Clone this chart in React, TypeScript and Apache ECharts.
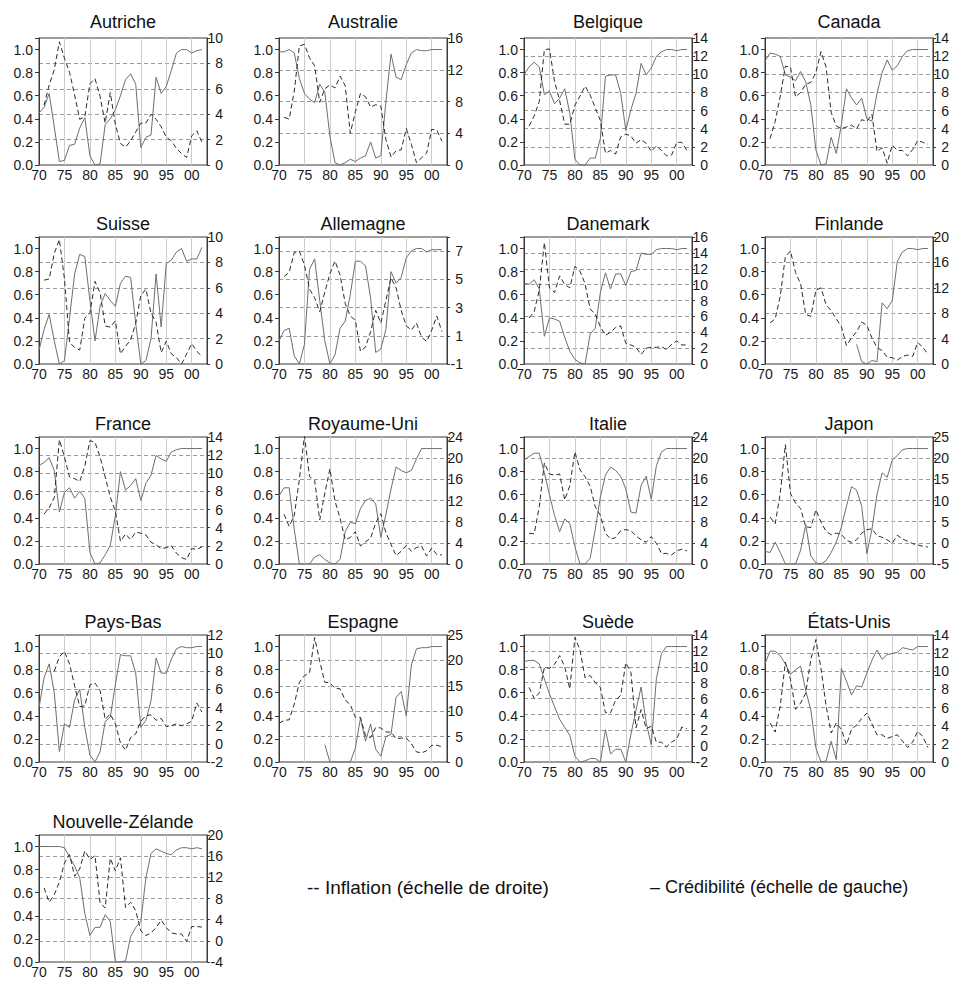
import React, { useEffect, useRef } from "react";
import * as echarts from "echarts";

const YEARS = [1970, 1971, 1972, 1973, 1974, 1975, 1976, 1977, 1978, 1979, 1980, 1981, 1982, 1983, 1984, 1985, 1986, 1987, 1988, 1989, 1990, 1991, 1992, 1993, 1994, 1995, 1996, 1997, 1998, 1999, 2000, 2001, 2002];

const COUNTRIES = ["Autriche", "Australie", "Belgique", "Canada", "Suisse", "Allemagne", "Danemark", "Finlande", "France", "Royaume-Uni", "Italie", "Japon", "Pays-Bas", "Espagne", "Suède", "États-Unis", "Nouvelle-Zélande"];

// right (inflation) axis per country
const RIGHT_MIN = [0, 0, 0, 0, 0, -1, 0, 0, 0, 0, 0, -5, -2, 0, -2, 0, -4];
const RIGHT_MAX = [10, 16, 14, 14, 10, 8, 16, 20, 14, 24, 24, 25, 12, 25, 14, 14, 20];
const RIGHT_STEP = [2, 4, 2, 2, 2, 2, 2, 4, 2, 4, 4, 5, 2, 5, 2, 2, 4];

const LEGEND_INFLATION = "-- Inflation (échelle de droite)";
const LEGEND_CREDIBILITE = "– Crédibilité (échelle de gauche)";

// Credibility (left scale) and inflation (right scale), 1970-2002
const credAutriche = [0.45, 0.50, 0.62, 0.33, 0.03, 0.04, 0.17, 0.18, 0.32, 0.41, 0.08, 0.00, 0.01, 0.35, 0.40, 0.48, 0.60, 0.74, 0.79, 0.70, 0.15, 0.24, 0.26, 0.76, 0.62, 0.68, 0.82, 0.97, 1.00, 1.00, 0.97, 0.99, 1.00];
const inflAutriche = [null, 4.7, 6.3, 7.5, 9.7, 8.4, 7.3, 5.5, 3.6, 3.8, 6.4, 6.8, 5.4, 3.3, 5.7, 3.2, 1.7, 1.4, 1.9, 2.6, 3.3, 3.3, 4.0, 3.6, 3.0, 2.2, 1.9, 1.3, 0.9, 0.6, 2.3, 2.7, 1.8];

const credAustralie = [0.98, 0.98, 1.00, 0.97, 0.75, 0.62, 0.57, 0.54, 0.70, 0.63, 0.25, 0.02, 0.00, 0.02, 0.05, 0.03, 0.06, 0.08, 0.20, 0.06, 0.08, 0.55, 0.96, 0.76, 0.74, 0.87, 0.97, 1.00, 0.99, 0.99, 1.00, 1.00, 1.00];
const inflAustralie = [null, 6.0, 5.8, 9.3, 15.0, 15.2, 13.5, 12.5, 7.9, 9.6, 10.1, 9.7, 11.2, 10.0, 4.0, 6.7, 9.0, 8.6, 7.3, 7.6, 7.4, 3.2, 1.0, 1.8, 1.9, 4.6, 2.6, 0.3, 0.9, 1.5, 4.5, 4.4, 3.0];

const credBelgique = [0.78, 0.85, 0.89, 0.85, 0.61, 0.64, 0.53, 0.58, 0.66, 0.45, 0.05, 0.00, 0.00, 0.06, 0.06, 0.23, 0.77, 0.78, 0.78, 0.62, 0.30, 0.48, 0.62, 0.88, 0.78, 0.84, 0.94, 0.98, 1.00, 1.00, 0.99, 1.00, 1.00];
const inflBelgique = [null, 4.3, 5.4, 7.0, 12.7, 12.8, 9.2, 7.1, 4.5, 4.5, 6.6, 7.6, 8.7, 7.7, 6.3, 4.9, 1.3, 1.6, 1.2, 3.1, 3.4, 3.2, 2.4, 2.8, 2.4, 1.5, 2.1, 1.6, 1.0, 1.1, 2.5, 2.5, 1.6];

const credCanada = [0.90, 0.97, 0.96, 0.94, 0.78, 0.76, 0.73, 0.81, 0.72, 0.52, 0.13, 0.00, 0.01, 0.24, 0.10, 0.35, 0.66, 0.58, 0.52, 0.58, 0.40, 0.38, 0.62, 0.80, 0.91, 0.82, 0.86, 0.94, 0.99, 1.00, 1.00, 1.00, 1.00];
const inflCanada = [null, 2.9, 4.8, 7.6, 10.9, 10.8, 7.5, 8.0, 8.9, 9.1, 10.2, 12.5, 10.8, 5.8, 4.3, 4.0, 4.2, 4.4, 4.0, 5.0, 4.8, 5.6, 1.5, 1.9, 0.2, 2.2, 1.6, 1.6, 1.0, 1.7, 2.7, 2.5, 2.3];

const credSuisse = [0.12, 0.30, 0.43, 0.20, 0.00, 0.03, 0.40, 0.78, 0.95, 0.93, 0.55, 0.20, 0.50, 0.61, 0.55, 0.50, 0.70, 0.76, 0.75, 0.35, 0.00, 0.03, 0.22, 0.78, 0.32, 0.87, 0.90, 0.97, 1.00, 0.89, 0.91, 0.91, 1.01];
const inflSuisse = [null, 6.6, 6.7, 8.7, 9.8, 6.7, 1.7, 1.3, 1.1, 3.6, 4.0, 6.5, 5.6, 3.0, 2.9, 3.4, 0.8, 1.4, 1.9, 3.2, 5.4, 5.9, 4.0, 3.3, 0.9, 1.8, 0.8, 0.5, 0.0, 0.8, 1.6, 1.0, 0.6];

const credAllemagne = [0.20, 0.29, 0.31, 0.07, 0.00, 0.17, 0.82, 0.91, 0.55, 0.20, 0.00, 0.08, 0.31, 0.37, 0.60, 0.89, 0.89, 0.85, 0.57, 0.10, 0.13, 0.30, 0.80, 0.70, 0.75, 0.92, 0.98, 1.00, 1.00, 0.97, 0.99, 0.99, 0.99];
const inflAllemagne = [null, 5.2, 5.5, 6.9, 7.0, 6.0, 4.3, 3.7, 2.7, 4.1, 5.4, 6.3, 5.3, 3.3, 2.4, 2.1, -0.1, 0.2, 1.3, 2.8, 1.9, 3.5, 5.1, 4.4, 2.8, 1.7, 1.4, 1.9, 0.9, 0.6, 1.4, 2.4, 1.3];

const credDanemark = [0.70, 0.69, 0.73, 0.65, 0.24, 0.40, 0.39, 0.37, 0.23, 0.11, 0.04, 0.01, 0.00, 0.26, 0.31, 0.62, 0.79, 0.65, 0.78, 0.78, 0.68, 0.80, 0.81, 0.96, 0.95, 0.95, 0.99, 1.00, 1.00, 1.00, 0.99, 1.00, 1.00];
const inflDanemark = [null, 5.8, 6.6, 9.3, 15.3, 9.6, 9.0, 11.1, 10.0, 9.6, 12.3, 11.7, 10.1, 6.9, 6.3, 4.7, 3.6, 4.0, 4.6, 4.8, 2.6, 2.4, 2.1, 1.2, 2.0, 2.1, 2.1, 2.2, 1.8, 2.5, 2.9, 2.4, 2.4];

const credFinlande = [null, null, null, null, null, null, null, null, null, null, null, null, null, null, null, null, null, null, 0.17, 0.02, 0.00, 0.03, 0.02, 0.53, 0.48, 0.55, 0.89, 0.97, 1.00, 1.00, 0.99, 1.00, 1.00];
const inflFinlande = [null, 6.5, 7.1, 10.7, 16.9, 17.8, 14.4, 12.6, 7.8, 7.5, 11.6, 12.0, 9.3, 8.4, 7.1, 5.9, 2.9, 4.1, 5.1, 6.6, 6.1, 4.1, 2.6, 2.1, 1.1, 1.0, 0.6, 1.2, 1.4, 1.2, 3.4, 2.6, 1.6];

const credFrance = [0.85, 0.88, 0.92, 0.81, 0.45, 0.62, 0.66, 0.57, 0.63, 0.57, 0.10, 0.00, 0.01, 0.08, 0.16, 0.42, 0.80, 0.64, 0.68, 0.74, 0.55, 0.70, 0.77, 0.94, 0.91, 0.89, 0.97, 0.99, 1.00, 1.00, 1.00, 1.00, 1.00];
const inflFrance = [null, 5.5, 6.2, 7.3, 13.7, 11.8, 9.6, 9.4, 9.1, 10.8, 13.6, 13.4, 11.8, 9.6, 7.4, 5.8, 2.5, 3.3, 2.7, 3.5, 3.4, 3.2, 2.4, 2.1, 1.7, 1.8, 2.0, 1.2, 0.7, 0.5, 1.7, 1.6, 1.9];

const credRoyaumeUni = [0.59, 0.66, 0.66, 0.30, 0.00, 0.00, 0.00, 0.06, 0.08, 0.04, 0.01, 0.00, 0.04, 0.28, 0.36, 0.35, 0.48, 0.55, 0.57, 0.52, 0.23, 0.43, 0.65, 0.84, 0.81, 0.79, 0.81, 0.91, 1.00, 1.00, 1.00, 1.00, 1.00];
const inflRoyaumeUni = [null, 9.4, 7.1, 9.2, 16.0, 24.2, 16.5, 15.8, 8.3, 13.4, 18.0, 11.9, 8.6, 4.6, 5.0, 6.1, 3.4, 4.2, 4.9, 7.8, 9.5, 5.9, 3.7, 1.6, 2.4, 3.5, 2.4, 3.1, 3.4, 1.5, 3.0, 1.8, 1.7];

const credItalie = [0.90, 0.93, 0.96, 0.96, 0.79, 0.60, 0.42, 0.28, 0.39, 0.35, 0.15, 0.00, 0.00, 0.05, 0.30, 0.58, 0.77, 0.84, 0.81, 0.76, 0.65, 0.45, 0.44, 0.68, 0.76, 0.56, 0.85, 0.97, 1.00, 1.00, 1.00, 1.00, 1.00];
const inflItalie = [null, 5.8, 5.7, 10.8, 19.1, 17.0, 16.8, 17.0, 12.1, 14.8, 21.2, 17.8, 16.5, 14.7, 10.8, 9.2, 5.8, 4.7, 5.0, 6.3, 6.5, 6.3, 5.3, 4.6, 4.1, 5.2, 3.9, 2.0, 2.0, 1.7, 2.5, 2.8, 2.5];

const credJapon = [0.11, 0.10, 0.19, 0.10, 0.00, 0.00, 0.00, 0.12, 0.34, 0.07, 0.01, 0.00, 0.03, 0.10, 0.19, 0.32, 0.50, 0.67, 0.64, 0.50, 0.09, 0.30, 0.60, 0.79, 0.75, 0.90, 0.94, 0.99, 1.00, 1.00, 1.00, 1.00, 1.00];
const inflJapon = [null, 6.1, 4.5, 11.7, 23.2, 11.7, 9.4, 8.1, 3.8, 3.6, 7.8, 4.9, 2.7, 1.9, 2.3, 2.0, 0.6, 0.1, 0.7, 2.3, 3.1, 3.3, 1.7, 1.3, 0.7, -0.1, 1.8, 0.9, 0.4, -0.2, -0.5, -0.8, -1.0];

const credPaysBas = [0.47, 0.73, 0.85, 0.60, 0.09, 0.33, 0.30, 0.54, 0.63, 0.30, 0.06, 0.00, 0.09, 0.35, 0.39, 0.67, 0.93, 0.92, 0.92, 0.77, 0.30, 0.36, 0.53, 0.90, 0.77, 0.77, 0.89, 0.98, 1.00, 0.99, 0.99, 1.00, 1.00];
const inflPaysBas = [null, null, null, 8.0, 9.6, 10.2, 8.8, 6.4, 4.1, 4.2, 6.5, 6.7, 5.9, 2.7, 3.3, 2.2, 0.1, -0.7, 0.7, 1.1, 2.5, 3.1, 3.2, 2.6, 2.8, 1.9, 2.0, 2.2, 2.0, 2.2, 2.5, 4.5, 3.5];

const credEspagne = [null, null, null, null, null, null, null, null, null, 0.15, 0.00, 0.00, 0.00, 0.00, 0.00, 0.12, 0.38, 0.18, 0.33, 0.11, 0.05, 0.22, 0.24, 0.56, 0.61, 0.40, 0.84, 0.98, 0.99, 0.99, 1.00, 1.00, 1.00];
const inflEspagne = [7.6, 8.2, 8.3, 11.4, 15.7, 17.0, 17.6, 24.5, 19.8, 15.7, 15.6, 14.5, 14.4, 12.2, 11.3, 8.8, 8.8, 5.2, 4.8, 6.8, 6.7, 5.9, 5.9, 4.6, 4.7, 4.7, 3.6, 2.0, 1.8, 2.2, 3.3, 3.3, 3.0];

const credSuede = [0.87, 0.88, 0.88, 0.85, 0.72, 0.59, 0.48, 0.37, 0.30, 0.23, 0.05, 0.00, 0.01, 0.03, 0.03, 0.00, 0.28, 0.07, 0.11, 0.11, 0.00, 0.24, 0.45, 0.65, 0.34, 0.15, 0.72, 0.94, 1.00, 1.00, 1.00, 1.00, 1.00];
const inflSuede = [null, 7.4, 6.0, 6.7, 9.9, 9.8, 10.3, 11.4, 10.0, 7.2, 13.7, 12.1, 8.6, 8.9, 8.0, 7.4, 4.2, 4.2, 5.8, 6.4, 10.5, 9.3, 2.3, 4.6, 2.2, 2.5, 0.5, 0.5, -0.1, 0.5, 0.9, 2.4, 2.2];

const credEtatsUnis = [0.85, 0.96, 0.96, 0.92, 0.85, 0.76, 0.80, 0.83, 0.62, 0.45, 0.12, 0.00, 0.01, 0.18, 0.02, 0.81, 0.70, 0.58, 0.66, 0.65, 0.77, 0.88, 0.97, 0.89, 0.93, 0.94, 0.95, 0.99, 0.98, 0.97, 1.00, 1.00, 1.00];
const inflEtatsUnis = [null, 4.3, 3.3, 6.2, 11.0, 9.1, 5.8, 6.5, 7.6, 11.3, 13.5, 10.3, 6.2, 3.2, 4.3, 3.6, 1.9, 3.6, 4.1, 4.8, 5.4, 4.2, 3.0, 3.0, 2.6, 2.8, 3.0, 2.3, 1.6, 2.2, 3.4, 2.8, 1.6];

const credNZ = [1.00, 1.00, 1.00, 1.00, 1.00, 0.99, 0.91, 0.83, 0.73, 0.42, 0.23, 0.30, 0.30, 0.41, 0.35, 0.00, 0.00, 0.01, 0.22, 0.30, 0.35, 0.73, 0.94, 0.98, 0.96, 0.94, 0.93, 0.97, 0.99, 0.99, 0.98, 0.99, 0.98];
const inflNZ = [null, 10.0, 7.3, 8.7, 11.1, 14.7, 16.3, 12.2, 13.6, 17.0, 15.4, 16.1, 7.2, 6.2, 15.6, 13.2, 15.7, 6.3, 7.3, 5.7, 1.9, 1.0, 1.5, 2.5, 3.9, 2.5, 1.5, 1.3, 1.3, -0.1, 2.7, 2.7, 2.6];

const CRED = [credAutriche, credAustralie, credBelgique, credCanada, credSuisse, credAllemagne, credDanemark, credFinlande, credFrance, credRoyaumeUni, credItalie, credJapon, credPaysBas, credEspagne, credSuede, credEtatsUnis, credNZ];
const INFL = [inflAutriche, inflAustralie, inflBelgique, inflCanada, inflSuisse, inflAllemagne, inflDanemark, inflFinlande, inflFrance, inflRoyaumeUni, inflItalie, inflJapon, inflPaysBas, inflEspagne, inflSuede, inflEtatsUnis, inflNZ];

// layout
const COL_LEFT = [39, 279, 524, 765];
const ROW_TOP = [38, 237, 437, 635, 835];
const TITLE_Y = [22, 224, 424, 622, 822];
const PW = 168;
const PH = 127;
const FONT = '"Liberation Sans", Arial, Helvetica, sans-serif';

function onStep(v: number, min: number, step: number) {
  const k = (v - min) / step;
  return Math.abs(k - Math.round(k)) < 1e-6;
}

function pairs(vals: (number | null)[]) {
  const out: [number, number][] = [];
  vals.forEach((v, k) => {
    if (v !== null && v !== undefined) out.push([YEARS[k], v]);
  });
  return out;
}

function buildOption() {
  const grid: any[] = [];
  const xAxis: any[] = [];
  const yAxis: any[] = [];
  const series: any[] = [];
  const graphic: any[] = [];
  COUNTRIES.forEach((name, i) => {
    const col = i % 4;
    const row = Math.floor(i / 4);
    const left = COL_LEFT[col];
    const top = ROW_TOP[row];
    grid.push({ left, top, width: PW, height: PH, show: true, borderColor: "#3a3a3a", borderWidth: 1, backgroundColor: "transparent", containLabel: false });
    xAxis.push({
      type: "value", gridIndex: i, min: 1970, max: 2003, interval: 5,
      axisLine: { show: false }, axisTick: { show: false },
      axisLabel: {
        margin: 3, fontSize: 14, color: "#1a1a1a", fontFamily: FONT,
        formatter: (v: number) => (onStep(v, 1970, 5) && v <= 2000 ? String(v).slice(2) : ""),
      },
      splitLine: { show: true, lineStyle: { color: "#cccccc", width: 1 } },
    });
    yAxis.push({
      type: "value", gridIndex: i, position: "left", min: 0, max: 1.1, interval: 0.2,
      axisLine: { show: true, lineStyle: { color: "#3a3a3a" } },
      axisTick: { show: true, length: 4, inside: false, lineStyle: { color: "#3a3a3a" } },
      axisLabel: {
        margin: 6, fontSize: 14, color: "#1a1a1a", fontFamily: FONT,
        formatter: (v: number) => (v <= 1.0001 && onStep(v, 0, 0.2) ? v.toFixed(1) : ""),
      },
      splitLine: { show: false },
    });
    const mn = RIGHT_MIN[i], mx = RIGHT_MAX[i], st = RIGHT_STEP[i];
    yAxis.push({
      type: "value", gridIndex: i, position: "right", min: mn, max: mx, interval: st,
      axisLine: { show: true, lineStyle: { color: "#3a3a3a" } },
      axisTick: { show: true, length: 3, inside: false, lineStyle: { color: "#3a3a3a" } },
      axisLabel: {
        margin: 16, align: "right", fontSize: 14, color: "#1a1a1a", fontFamily: FONT,
        formatter: (v: number) => (onStep(v, mn, st) ? String(Math.round(v)) : ""),
      },
      splitLine: { show: true, lineStyle: { color: "#9a9a9a", width: 1, type: [4, 3] } },
    });
    series.push({
      type: "line", xAxisIndex: i, yAxisIndex: 2 * i, data: pairs(CRED[i]),
      symbol: "none", showSymbol: false, silent: true, z: 3,
      lineStyle: { color: "#6e6e6e", width: 1 },
    });
    series.push({
      type: "line", xAxisIndex: i, yAxisIndex: 2 * i + 1, data: pairs(INFL[i]),
      symbol: "none", showSymbol: false, silent: true, z: 4,
      lineStyle: { color: "#2b2b2b", width: 1, type: [5, 3] },
    });
    graphic.push({
      type: "text", x: left + PW / 2, y: TITLE_Y[row],
      style: { text: name, fontSize: 18, fontFamily: FONT, fill: "#111", align: "center", verticalAlign: "middle" },
    });
  });
  graphic.push({
    type: "text", x: 307, y: 887,
    style: { text: LEGEND_INFLATION, fontSize: 19, fontFamily: FONT, fill: "#111", align: "left", verticalAlign: "middle" },
  });
  graphic.push({
    type: "text", x: 650, y: 887,
    style: { text: LEGEND_CREDIBILITE, fontSize: 18, fontFamily: FONT, fill: "#111", align: "left", verticalAlign: "middle" },
  });
  return {
    animation: false,
    backgroundColor: "#ffffff",
    textStyle: { fontFamily: FONT },
    grid, xAxis, yAxis, series, graphic,
  };
}

export default function App() {
  const ref = useRef<HTMLDivElement>(null);
  useEffect(() => {
    if (!ref.current) return;
    const chart = echarts.init(ref.current, null, { renderer: "svg" });
    chart.setOption(buildOption() as any);
    return () => chart.dispose();
  }, []);
  return <div ref={ref} style={{ position: "absolute", left: 0, top: 0, width: 957, height: 982 }} />;
}
